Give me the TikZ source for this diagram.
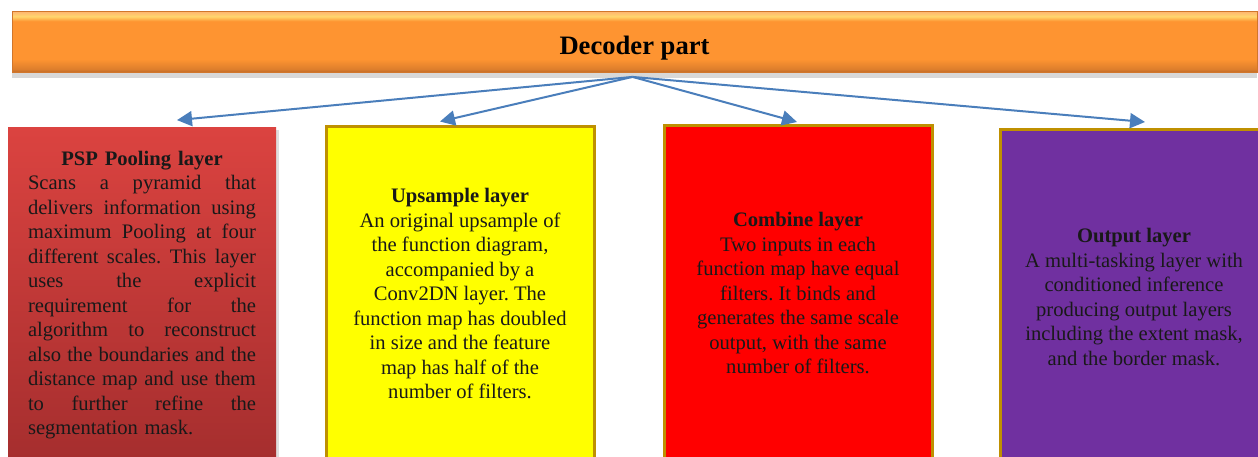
\documentclass[tikz,border=0pt]{standalone}
\usepackage{fontspec}
\setmainfont{Liberation Serif}
\usetikzlibrary{arrows.meta,shadows}
\definecolor{barorange}{RGB}{254,148,49}
\definecolor{barlight}{RGB}{255,214,110}
\definecolor{bardark}{RGB}{190,105,40}
\definecolor{psptop}{RGB}{219,67,64}
\definecolor{pspbottom}{RGB}{165,46,46}
\definecolor{upyellow}{RGB}{255,255,0}
\definecolor{combred}{RGB}{255,0,0}
\definecolor{outpurple}{RGB}{112,48,160}
\definecolor{boxgold}{RGB}{191,144,0}
\definecolor{arrowblue}{RGB}{74,126,187}
\newcommand{\jline}[1]{\makebox[114pt][s]{\spaceskip=0.25em plus 1fil\relax #1}}
% the path box covers 25bp..75bp of the shading
\pgfdeclareverticalshading{barshade}{100bp}{%
    color(0bp)=(bardark); color(25bp)=(bardark); color(28bp)=(bardark!50!barorange);
    color(36bp)=(barorange); color(67bp)=(barorange);
    color(71bp)=(barlight); color(75bp)=(barorange!70!white);
    color(100bp)=(barorange!70!white)}

\tikzset{
    layerbox/.style={rectangle, minimum width=134pt, minimum height=167.5pt,
        inner sep=0pt, align=center, text=black!90,
        font=\fontsize{10.3}{12.25}\selectfont\frenchspacing},
    goldbox/.style={layerbox, draw=boxgold, line width=1.5pt},
    fanarrow/.style={draw=arrowblue, line width=1pt,
        -{Triangle[length=7.5pt, width=7.5pt]}},
}

\begin{document}
\begin{tikzpicture}[x=0.5pt, y=-0.5pt]
    \useasboundingbox (0, 0) rectangle (1258, 456);
    \clip (0, 0) rectangle (1258, 456);
    \fill[white] (0, 0) rectangle (1258, 456);

    % Title bar
    \node[rectangle, minimum width=622.5pt, minimum height=30.5pt,
        shading=barshade, draw=bardark!70!barorange, line width=0.4pt,
        drop shadow={shadow xshift=0pt, shadow yshift=-2.5pt, opacity=0.3}] (bar) at (634.5, 42) {};
    \node[font=\fontsize{13.3}{15}\selectfont\bfseries, text depth=0pt]
        (barTitle) at ([yshift=-1.5pt]bar.center) {Decoder part};
    \coordinate (hub) at ([xshift=-1pt, yshift=-2pt]bar.south);

    % Layer boxes
    \node[layerbox, top color=psptop, bottom color=pspbottom,
        drop shadow={shadow xshift=1.5pt, shadow yshift=-1pt, opacity=0.25},
        text width=114pt] (psp) at (142, 295) {%
        \textbf{PSP Pooling layer}\\
        \jline{Scans a pyramid that}\\
        \jline{delivers information using}\\
        \jline{maximum Pooling at four}\\
        \jline{different scales. This layer}\\
        \jline{uses the explicit}\\
        \jline{requirement for the}\\
        \jline{algorithm to reconstruct}\\
        \jline{also the boundaries and the}\\
        \jline{distance map and use them}\\
        \jline{to further refine the}\\
        \makebox[114pt][l]{segmentation mask.}};
    \node[goldbox, fill=upyellow] (upsample) at (460, 293.5) {%
        \textbf{Upsample layer}\\
        An original upsample of\\
        the function diagram,\\
        accompanied by a\\
        Conv2DN layer. The\\
        function map has doubled\\
        in size and the feature\\
        map has half of the\\
        number of filters.};
    \node[goldbox, fill=combred] (combine) at (798, 293) {%
        \textbf{Combine layer}\\
        Two inputs in each\\
        function map have equal\\
        filters. It binds and\\
        generates the same scale\\
        output, with the same\\
        number of filters.};
    \node[goldbox, fill=outpurple] (output) at (1134, 297) {%
        \textbf{Output layer}\\
        A multi-tasking layer with\\
        conditioned inference\\
        producing output layers\\
        including the extent mask,\\
        and the border mask.};

    % Arrow tips just above the boxes
    \coordinate (pspTip) at ([xshift=17.5pt, yshift=3.5pt]psp.north);
    \coordinate (upsampleTip) at ([xshift=-10pt, yshift=1.5pt]upsample.north);
    \coordinate (combineTip) at ([xshift=-0.5pt, yshift=1pt]combine.north);
    \coordinate (outputTip) at ([xshift=5.5pt, yshift=3pt]output.north);

    \foreach \target in {pspTip, upsampleTip, combineTip, outputTip}
        \draw[fanarrow] (hub) -- (\target);
\end{tikzpicture}
\end{document}
